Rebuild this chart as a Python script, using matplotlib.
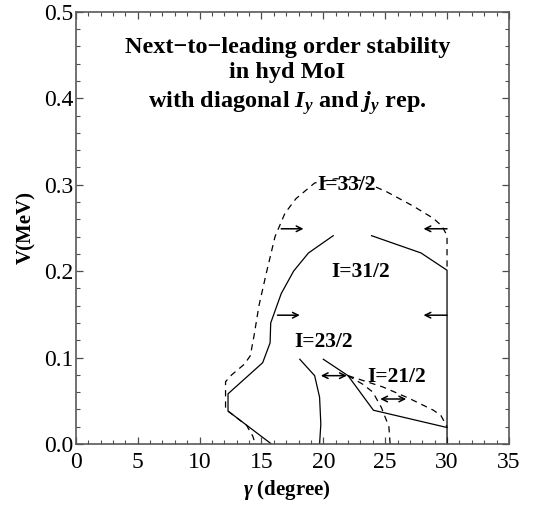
import matplotlib
matplotlib.use('Agg')
import matplotlib.pyplot as plt
from matplotlib.ticker import MultipleLocator

plt.rcParams['font.family'] = ['Liberation Serif', 'DejaVu Serif']
plt.rcParams['mathtext.fontset'] = 'custom'
plt.rcParams['mathtext.rm'] = 'Liberation Serif:bold'
plt.rcParams['mathtext.it'] = 'Liberation Serif:italic:bold'
plt.rcParams['mathtext.bf'] = 'Liberation Serif:bold'

# outer dashed boundary (I=33/2)
outer_g = [12.1, 12.1, 12.6, 13.6, 14.1, 14.4, 14.8, 15.4, 16.1, 16.9, 17.8,
           19.3, 21.0, 23.0, 25.1, 27.3, 28.9, 29.6, 30.0, 30.0]
outer_v = [0.042, 0.072, 0.080, 0.092, 0.102, 0.125, 0.160, 0.198, 0.240,
           0.267, 0.284, 0.302, 0.307, 0.305, 0.292, 0.275, 0.261, 0.252,
           0.241, 0.201]

# solid left boundary (I=31/2, 23/2)
left_g = [15.8, 12.3, 12.3, 15.1, 15.7, 15.75, 16.0, 16.6, 17.6, 18.8, 20.8]
left_v = [0.0, 0.038, 0.058, 0.094, 0.117, 0.140, 0.150, 0.174, 0.200,
          0.221, 0.241]

# solid right boundary (I=31/2)
right_g = [23.9, 27.9, 30.0, 30.0]
right_v = [0.241, 0.221, 0.201, 0.0]

# solid I=23/2 middle
mid_g = [18.1, 19.3, 19.7, 19.8, 19.7]
mid_v = [0.098, 0.079, 0.054, 0.023, 0.0]

# solid I=21/2
low_g = [20.0, 22.0, 24.05, 30.0]
low_v = [0.098, 0.079, 0.039, 0.019]

# dashed lower branches
dash1_g = [22.0, 23.2, 24.0, 24.7, 25.3, 25.4]
dash1_v = [0.079, 0.069, 0.060, 0.042, 0.020, 0.0]
dash2_g = [22.0, 24.8, 26.9, 28.9, 29.5, 30.0]
dash2_v = [0.079, 0.066, 0.053, 0.039, 0.033, 0.020]
dash3_g = [12.3, 13.8, 14.3, 14.5]
dash3_v = [0.038, 0.0215, 0.009, 0.0]

# arrows: (start gamma, end gamma, V, style)
arrow_g0 = [16.6, 16.3, 30.0, 30.0, 19.8, 24.6]
arrow_g1 = [18.4, 18.1, 28.1, 28.1, 21.9, 26.7]
arrow_v = [0.249, 0.149, 0.249, 0.149, 0.079, 0.052]
arrow_style = ['->', '->', '->', '->', '<->', '<->']

labels = ['I=33/2', 'I=31/2', 'I=23/2', 'I=21/2']
label_g = [21.9, 23.0, 20.0, 25.9]
label_v = [0.300, 0.199, 0.118, 0.078]

fig = plt.figure(figsize=(5.34, 5.18), dpi=100)
ax = fig.add_axes([0.142, 0.143, 0.811, 0.834])

dash = (5, 4)
ax.plot(outer_g, outer_v, color='black', lw=0.9, dashes=dash)
ax.plot(dash1_g, dash1_v, color='black', lw=0.9, dashes=dash)
ax.plot(dash2_g, dash2_v, color='black', lw=0.9, dashes=dash)
ax.plot(dash3_g, dash3_v, color='black', lw=0.9, dashes=dash)
ax.plot(left_g, left_v, color='black', lw=0.9)
ax.plot(right_g, right_v, color='black', lw=0.9)
ax.plot(mid_g, mid_v, color='black', lw=0.9)
ax.plot(low_g, low_v, color='black', lw=0.9)

for g0, g1, v, st in zip(arrow_g0, arrow_g1, arrow_v, arrow_style):
    ax.annotate('', xy=(g1, v), xytext=(g0, v),
                arrowprops=dict(arrowstyle=st, lw=1.1, color='black',
                                shrinkA=0, shrinkB=0,
                                mutation_scale=10))

for t, g, v in zip(labels, label_g, label_v):
    ax.text(g, v, t, fontsize=15.5, fontweight='bold', ha='center',
            va='center')

ax.text(17.1, 0.425,
        'Next\u2212to\u2212leading order stability\nin hyd MoI\n'
        'with diagonal $I_y$ and $j_y$ rep.',
        fontsize=17.5, fontweight='bold', ha='center', va='center',
        linespacing=1.3)

ax.set_xlim(0, 35)
ax.set_ylim(0, 0.5)
ax.xaxis.set_major_locator(MultipleLocator(5))
ax.xaxis.set_minor_locator(MultipleLocator(1))
ax.yaxis.set_major_locator(MultipleLocator(0.1))
ax.yaxis.set_minor_locator(MultipleLocator(0.02))
ax.yaxis.set_major_formatter(plt.FormatStrFormatter('%.1f'))
ax.tick_params(which='both', direction='in', top=True, right=True,
               labelsize=17, color='0.3')
ax.tick_params(which='major', length=5, width=0.9)
ax.tick_params(which='minor', length=3, width=0.8)
ax.tick_params(axis='y', pad=2)
ax.tick_params(axis='x', pad=6)
for s in ax.spines.values():
    s.set_color('0.35')
    s.set_linewidth(1.2)

ax.set_xlabel(r'$\gamma$ (degree)', fontsize=15, fontweight='bold')
ax.xaxis.set_label_coords(0.487, -0.106)
ax.xaxis.label.set_verticalalignment('center')
ax.set_ylabel('V(MeV)', fontsize=15, fontweight='bold')
ax.yaxis.set_label_coords(-0.115, 0.5)
ax.yaxis.label.set_verticalalignment('center')

fig.savefig('out.png', dpi=100)
